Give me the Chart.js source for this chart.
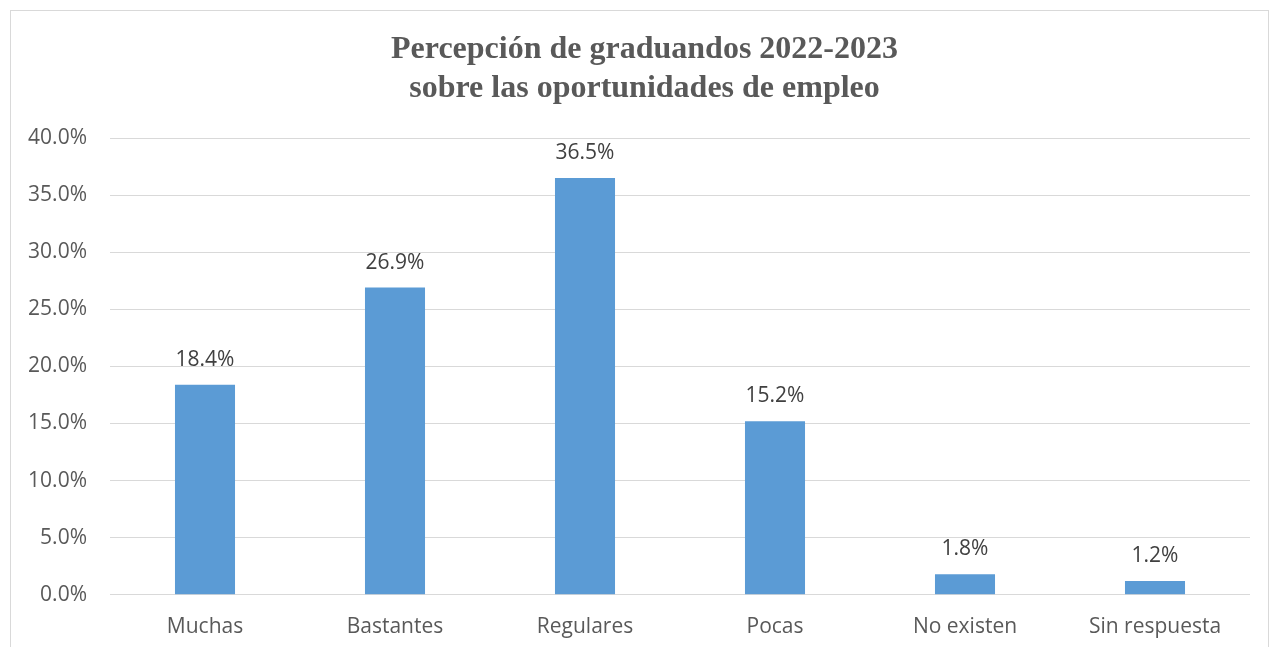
<!DOCTYPE html>
<html>
<head>
<meta charset="utf-8">
<script src="https://cdn.jsdelivr.net/npm/chart.js@4"></script>
<style>
  body { margin: 0; background: #fff; }
  #wrap {
    position: absolute; left: 10px; top: 10px;
    width: 1257px; height: 645px;
    border: 1px solid #d9d9d9;
  }
</style>
</head>
<body>
<div id="wrap"><canvas id="myChart"></canvas></div>
<script>
const categories = ["Muchas", "Bastantes", "Regulares", "Pocas", "No existen", "Sin respuesta"];
const percentages = [18.4, 26.9, 36.5, 15.2, 1.8, 1.2];
const tickValues = [0, 5, 10, 15, 20, 25, 30, 35, 40];
const titleLines = ['Percepción de graduandos 2022-2023', 'sobre las oportunidades de empleo'];

const barBlue = "#5b9bd5";
const axisGray = "#595959";
const gridGray = "#d9d9d9";

// value labels above each bar
const valueLabels = {
  id: 'valueLabels',
  afterDatasetsDraw(chart) {
    const { ctx } = chart;
    const meta = chart.getDatasetMeta(0);
    ctx.save();
    ctx.font = "21px 'Open Sans'";
    ctx.fillStyle = "#404040";
    ctx.textAlign = 'center';
    ctx.textBaseline = 'middle';
    meta.data.forEach((bar, i) => {
      ctx.fillText(percentages[i].toFixed(1) + '%', bar.x, bar.y - 25);
    });
    ctx.restore();
  }
};

// title, centred a bit right of the canvas middle like the original
const titlePlugin = {
  id: 'titlePlugin',
  afterDraw(chart) {
    const { ctx } = chart;
    ctx.save();
    ctx.font = "bold 32px 'Liberation Serif'";
    ctx.fillStyle = axisGray;
    ctx.textAlign = 'center';
    ctx.textBaseline = 'middle';
    const cx = chart.width / 2 + 5;
    titleLines.forEach((line, i) => ctx.fillText(line, cx, 39 + i * 39));
    ctx.restore();
  }
};

new Chart("myChart", {
  type: 'bar',
  data: {
    labels: categories,
    datasets: [{
      data: percentages,
      backgroundColor: barBlue,
      barPercentage: 0.632,
      categoryPercentage: 0.5
    }]
  },
  options: {
    responsive: true,
    maintainAspectRatio: false,
    animation: false,
    layout: { padding: { left: 0, right: 18, top: 127, bottom: 4 } },
    plugins: {
      legend: { display: false },
      tooltip: { enabled: false },
      title: { display: false }
    },
    scales: {
      x: {
        grid: { display: false },
        border: { display: false },
        ticks: { color: axisGray, font: { family: "'Open Sans'", size: 21 }, padding: 12 }
      },
      y: {
        min: 0,
        max: 40,
        afterFit(scale) { scale.width = 99; },
        afterBuildTicks(scale) { scale.ticks = tickValues.map(v => ({ value: v })); },
        grid: { color: gridGray, drawTicks: false },
        border: { display: false },
        ticks: {
          color: axisGray,
          font: { family: "'Open Sans'", size: 21 },
          padding: 23,
          callback: v => v.toFixed(1) + '%'
        }
      }
    }
  },
  plugins: [valueLabels, titlePlugin]
});
</script>
</body>
</html>
